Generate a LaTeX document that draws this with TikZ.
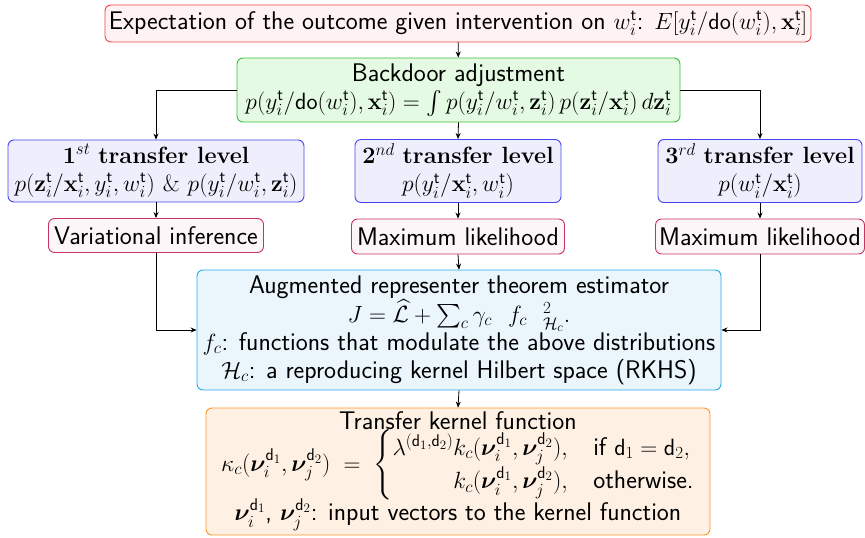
\RequirePackage{fix-cm}
\documentclass[tikz,border=0pt]{standalone}
\usepackage{amsmath,amssymb,bm}
\usetikzlibrary{arrows.meta}
\DeclareMathSizes{25.5}{23.5}{17}{13}
\definecolor{redb}{RGB}{236,70,70}
\definecolor{redf}{RGB}{255,242,242}
\definecolor{greenb}{RGB}{60,190,60}
\definecolor{greenf}{RGB}{228,250,226}
\definecolor{blueb}{RGB}{70,70,240}
\definecolor{bluef}{RGB}{238,238,252}
\definecolor{mlb}{RGB}{200,50,100}
\definecolor{mlf}{RGB}{253,246,248}
\definecolor{cyanb}{RGB}{40,170,230}
\definecolor{cyanf}{RGB}{234,245,252}
\definecolor{orab}{RGB}{250,150,40}
\definecolor{oraf}{RGB}{254,240,226}
\newcommand{\tT}{\mathsf{t}}
\newcommand{\lvtitle}[1]{{\rmfamily\bfseries\fontsize{23.5}{28}\selectfont #1}}
\begin{document}
\begin{tikzpicture}[x=1pt,y=-1pt,
  every node/.style={font=\sffamily\fontsize{25.5}{28}\selectfont},
  box/.style={draw, rounded corners=6pt, line width=0.9pt, align=center, inner sep=1pt},
  topbox/.style={box, draw=redb, fill=redf},
  bdbox/.style={box, draw=greenb, fill=greenf},
  lvbox/.style={box, draw=blueb, fill=bluef},
  mlbox/.style={box, draw=mlb, fill=mlf},
  augbox/.style={box, draw=cyanb, fill=cyanf},
  tkbox/.style={box, draw=orab, fill=oraf},
  conn/.style={line width=0.8pt, -{Stealth[length=6pt,width=5pt]}}]
\useasboundingbox (0,0) rectangle (865,538);
\node[topbox, minimum width=706, minimum height=37] (top) at (458,23.5)
  {Expectation of the outcome given intervention on $w_i^{\tT}$: $E[y_i^{\tT}/\mathsf{do}(w_i^{\tT}),\mathbf{x}_i^{\tT}]$};
\node[bdbox, minimum width=443, minimum height=64] (bd) at (458.5,90)
  {Backdoor adjustment\\
   $p(y_i^{\tT}/\mathsf{do}(w_i^{\tT}),\mathbf{x}_i^{\tT}) = \int p(y_i^{\tT}/w_i^{\tT},\mathbf{z}_i^{\tT})\,p(\mathbf{z}_i^{\tT}/\mathbf{x}_i^{\tT})\,d\mathbf{z}_i^{\tT}$};
\node[lvbox, minimum width=296, minimum height=62] (l1) at (156,171)
  {$\mathbf{1}^{st}$ \lvtitle{transfer level}\\
   $p(\mathbf{z}_i^{\tT}/\mathbf{x}_i^{\tT},y_i^{\tT},w_i^{\tT})$ \lvtitle{\mdseries\&} $p(y_i^{\tT}/w_i^{\tT},\mathbf{z}_i^{\tT})$};
\node[lvbox, minimum width=206, minimum height=63] (l2) at (458,171)
  {$\mathbf{2}^{nd}$ \lvtitle{transfer level}\\
   $p(y_i^{\tT}/\mathbf{x}_i^{\tT},w_i^{\tT})$};
\node[lvbox, minimum width=204, minimum height=63] (l3) at (760,171)
  {$\mathbf{3}^{rd}$ \lvtitle{transfer level}\\
   $p(w_i^{\tT}/\mathbf{x}_i^{\tT})$};
\node[mlbox, minimum width=215, minimum height=34] (vi) at (156,235.5) {Variational inference};
\node[mlbox, minimum width=213, minimum height=35] (ml2) at (458,236.5) {Maximum likelihood};
\node[mlbox, minimum width=209, minimum height=35] (ml3) at (760,236.5) {Maximum likelihood};
\node[augbox, minimum width=524, minimum height=120] (aug) at (459,330)
  {Augmented representer theorem estimator\\
   $J = \widehat{\mathcal{L}} + \textstyle\sum_c \gamma_c\ \ f_c\ \ {}^2_{\mathcal{H}_c}.$\\
   $f_c$: functions that modulate the above distributions\\
   $\mathcal{H}_c$: a reproducing kernel Hilbert space (RKHS)};
\node[tkbox, minimum width=504, minimum height=127] (tk) at (458,471.5)
  {Transfer kernel function\\[-1pt]
   \renewcommand{\arraystretch}{1.2}%
   $\kappa_c(\bm{\nu}_i^{\mathsf{d}_1},\bm{\nu}_j^{\mathsf{d}_2}) \;=\; \left\{\begin{array}{@{}r@{\quad}l@{}}
     \lambda^{(\mathsf{d}_1,\mathsf{d}_2)}k_c(\bm{\nu}_i^{\mathsf{d}_1},\bm{\nu}_j^{\mathsf{d}_2}), & \text{if } \mathsf{d}_1=\mathsf{d}_2,\\
     k_c(\bm{\nu}_i^{\mathsf{d}_1},\bm{\nu}_j^{\mathsf{d}_2}), & \text{otherwise.}
   \end{array}\right.$\\[-3pt]
   $\bm{\nu}_i^{\mathsf{d}_1}$, $\bm{\nu}_j^{\mathsf{d}_2}$: input vectors to the kernel function};
\draw[conn] (top) -- (bd);
\draw[conn] (bd.west) -| (l1.north);
\draw[conn] (bd.south) -- (l2.north);
\draw[conn] (bd.east) -| (l3.north);
\draw[conn] (l1.south) -- (vi.north);
\draw[conn] (l2.south) -- (ml2.north);
\draw[conn] (l3.south) -- (ml3.north);
\draw[conn] (vi.south) |- (aug.west);
\draw[conn] (ml2.south) -- (aug.north);
\draw[conn] (ml3.south) |- (aug.east);
\draw[conn] (aug.south) -- (tk.north);
\end{tikzpicture}
\end{document}
